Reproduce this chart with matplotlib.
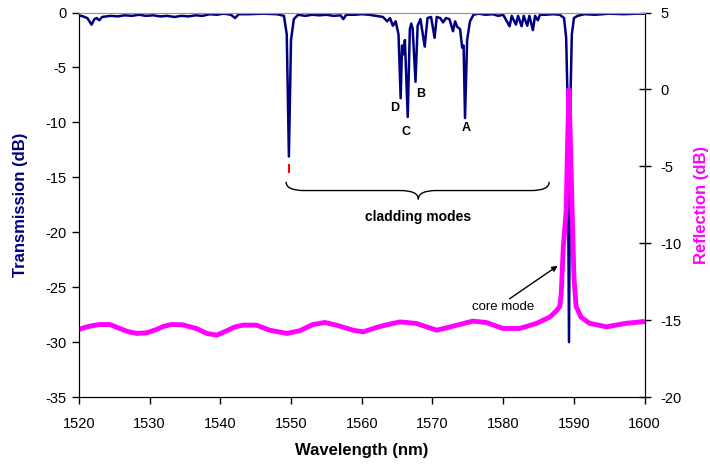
import matplotlib
matplotlib.use("Agg")
import matplotlib.pyplot as plt
from matplotlib.path import Path
from matplotlib.patches import PathPatch

plt.rcParams['font.family'] = ['Liberation Sans', 'DejaVu Sans']
plt.rcParams['axes.unicode_minus'] = False

# transmission trace (left axis)
trans_wl = [1520.0, 1520.6, 1521.2, 1521.8, 1522.2, 1522.5, 1522.9, 1523.3, 1524.5, 1525.5,
            1526.5, 1527.5, 1528.5, 1529.5, 1530.5, 1531.5, 1532.5, 1533.5, 1534.5, 1535.5,
            1536.5, 1537.5, 1538.5, 1539.5, 1540.5, 1541.5, 1542.1, 1542.6, 1544.0, 1546.0,
            1548.0, 1549.0, 1549.4, 1549.7, 1550.0, 1550.4, 1551.0, 1552.0, 1553.0, 1554.0,
            1555.0, 1556.0, 1557.0, 1557.4, 1557.8, 1559.0, 1560.0, 1561.0, 1562.0, 1563.0,
            1563.6, 1564.0, 1564.4, 1564.8, 1565.2, 1565.5, 1565.7, 1565.9, 1566.1, 1566.5,
            1566.8, 1567.0, 1567.2, 1567.6, 1567.9, 1568.3, 1568.9, 1569.3, 1569.8, 1570.3,
            1570.6, 1571.1, 1571.5, 1571.9, 1572.4, 1572.9, 1573.2, 1573.5, 1573.9, 1574.2,
            1574.4, 1574.6, 1574.9, 1575.3, 1575.8, 1576.5, 1577.5, 1578.5, 1579.3, 1580.0,
            1580.9, 1581.2, 1581.8, 1582.1, 1582.6, 1582.9, 1583.4, 1583.7, 1584.2, 1584.5,
            1584.9, 1585.2, 1586.0, 1587.0, 1588.0, 1588.6, 1588.9, 1589.1, 1589.3, 1589.5,
            1589.7, 1590.0, 1590.5, 1591.5, 1593.0, 1595.0, 1597.0, 1599.0, 1600.0]
trans_db = [-0.25, -0.35, -0.5, -1.1, -0.6, -0.5, -0.7, -0.4, -0.3, -0.35,
            -0.25, -0.3, -0.2, -0.3, -0.25, -0.35, -0.3, -0.4, -0.3, -0.35,
            -0.25, -0.3, -0.15, -0.2, -0.1, -0.2, -0.5, -0.15, -0.15, -0.1,
            -0.15, -0.3, -2.0, -13.1, -2.5, -0.6, -0.2, -0.3, -0.2, -0.25,
            -0.2, -0.3, -0.25, -0.6, -0.2, -0.2, -0.15, -0.2, -0.3, -0.4,
            -0.8, -0.5, -1.2, -0.8, -2.0, -7.8, -3.0, -3.8, -2.5, -9.5,
            -1.5, -1.0, -1.5, -6.3, -1.2, -0.6, -3.1, -0.5, -0.4, -2.3,
            -0.4, -0.5, -0.9, -0.5, -0.6, -1.7, -0.8, -1.3, -1.5, -3.2,
            -3.0, -9.6, -2.5, -0.8, -0.2, -0.1, -0.2, -0.15, -0.3, -0.2,
            -1.25, -0.3, -1.1, -0.3, -1.25, -0.3, -1.2, -0.3, -1.6, -0.3,
            -0.7, -0.2, -0.2, -0.15, -0.2, -0.5, -2.3, -8.0, -30.0, -8.0,
            -2.0, -0.5, -0.3, -0.15, -0.2, -0.1, -0.15, -0.1, -0.1]

# reflection trace (right axis)
refl_wl = [1520.0, 1521.0, 1522.0, 1523.0, 1524.4, 1525.8, 1527.0, 1528.2, 1529.6, 1531.0,
           1532.0, 1533.1, 1534.7, 1536.6, 1538.1, 1539.5, 1540.9, 1542.0, 1543.2, 1545.1,
           1547.0, 1549.4, 1551.2, 1553.1, 1554.8, 1556.4, 1558.8, 1560.2, 1562.1, 1563.7,
           1565.4, 1567.7, 1570.6, 1572.9, 1575.7, 1577.6, 1580.0, 1582.3, 1584.7, 1586.6,
           1587.5, 1588.0, 1588.2, 1588.5, 1588.9, 1589.1, 1589.3, 1589.5, 1589.8, 1590.0,
           1590.3, 1591.0, 1592.2, 1594.6, 1597.4, 1599.7, 1600.0]
refl_db = [-15.6, -15.45, -15.35, -15.28, -15.28, -15.54, -15.75, -15.86, -15.82, -15.6,
           -15.4, -15.28, -15.3, -15.54, -15.86, -15.97, -15.69, -15.45, -15.32, -15.32,
           -15.65, -15.86, -15.69, -15.28, -15.15, -15.32, -15.65, -15.76, -15.47, -15.28,
           -15.11, -15.21, -15.65, -15.39, -15.06, -15.15, -15.54, -15.54, -15.21, -14.79,
           -14.4, -14.1, -13.3, -10.2, -7.9, -3.5, 0.0, -3.5, -8.9, -12.2,
           -14.1, -14.8, -15.2, -15.43, -15.2, -15.1, -15.1]

# cladding mode labels
mode_labels = ['D', 'C', 'B', 'A']
mode_label_x = [1564.7, 1566.3, 1568.3, 1574.8]
mode_label_y = [-8.7, -10.9, -7.4, -10.5]

fig = plt.figure(figsize=(7.1, 4.65), dpi=100)
ax = fig.add_axes([0.111, 0.146, 0.797, 0.827])
ax2 = ax.twinx()

ax.plot(trans_wl, trans_db, color='#000080', lw=1.8)
ax2.plot(refl_wl, refl_db, color='#FF00FF', lw=3.5)

ax.set_xlim(1520, 1600)
ax.set_ylim(-35, 0)
ax2.set_ylim(-20, 5)
ax.set_xticks(range(1520, 1601, 10))
ax.set_yticks(range(-35, 1, 5))
ax2.set_yticks(range(-20, 6, 5))

for a in (ax, ax2):
    a.spines['top'].set_color('#999999')
    a.tick_params(labelsize=10.5, width=1)
ax.tick_params(axis='x', direction='out', length=5, pad=9)
ax.tick_params(axis='y', direction='out', length=5, pad=4)
ax2.tick_params(axis='y', direction='inout', length=9, pad=7)

ax.set_xlabel('Wavelength (nm)', fontsize=12, fontweight='bold', labelpad=9)
ax.set_ylabel('Transmission (dB)', fontsize=12, fontweight='bold', color='#000080', labelpad=12)
ax2.set_ylabel('Reflection (dB)', fontsize=12, fontweight='bold', color='#FF00FF', labelpad=9)

for lab, x, y in zip(mode_labels, mode_label_x, mode_label_y):
    ax.text(x, y, lab, ha='center', va='center', fontsize=9, fontweight='bold')

# red marker under the first dip
ax.vlines(1549.7, -14.6, -13.8, color='red', lw=1.5)

# brace over the cladding modes
x0, x1, xm = 1549.3, 1586.5, 1568.0
yt, ym, yb = -15.4, -16.2, -17.0
verts = [(x0, yt), (x0, ym), (x0 + 2.5, ym), (xm - 2.5, ym), (xm, ym), (xm, yb),
         (xm, ym), (xm + 2.5, ym), (x1 - 2.5, ym), (x1, ym), (x1, yt)]
codes = [Path.MOVETO, Path.CURVE3, Path.CURVE3, Path.LINETO, Path.CURVE3, Path.CURVE3,
         Path.CURVE3, Path.CURVE3, Path.LINETO, Path.CURVE3, Path.CURVE3]
ax.add_patch(PathPatch(Path(verts, codes), fill=False, lw=1, color='black'))
ax.text(xm, -18.6, 'cladding modes', ha='center', va='center', fontsize=10, fontweight='bold')

# core mode label and arrow
ax.text(1580.0, -26.8, 'core mode', ha='center', va='center', fontsize=9.5)
ax.annotate('', xy=(1587.7, -23.05), xytext=(1580.9, -26.05),
            arrowprops=dict(arrowstyle='-|>', color='black', lw=1, shrinkA=0, shrinkB=0,
                            mutation_scale=8))

fig.savefig('out.png', dpi=100)
